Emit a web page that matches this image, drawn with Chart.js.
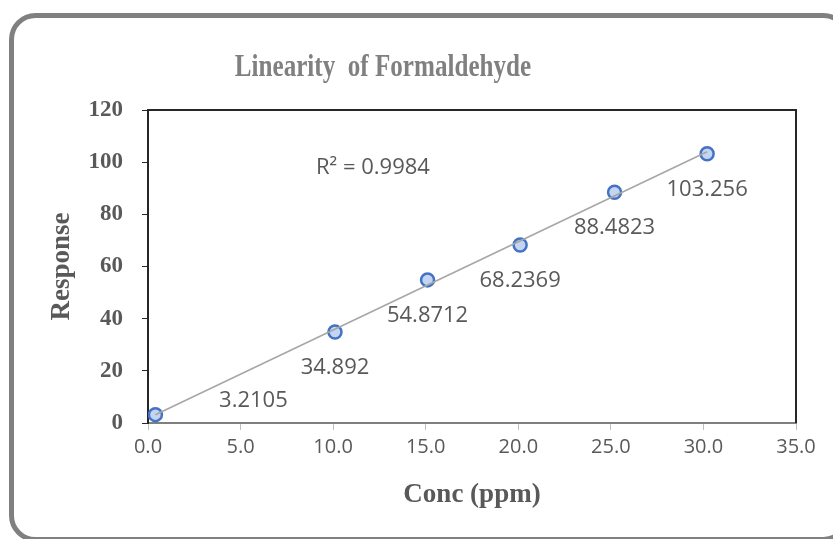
<!DOCTYPE html>
<html>
<head>
<meta charset="utf-8">
<title>Linearity of Formaldehyde</title>
<script src="https://cdn.jsdelivr.net/npm/chart.js@4"></script>
<style>
  html, body { margin: 0; padding: 0; background: #fff; }
  #wrap { width: 833px; height: 539px; position: relative; }
</style>
</head>
<body>
<div id="wrap"><canvas id="chart" width="833" height="539"></canvas></div>
<script>
// data
var concValues = [0.4, 10.1, 15.1, 20.1, 25.2, 30.2];
var responseValues = [3.2105, 34.892, 54.8712, 68.2369, 88.4823, 103.256];
var xTicks = [0, 5, 10, 15, 20, 25, 30, 35];
var yTicks = [0, 20, 40, 60, 80, 100, 120];
var titleText = 'Linearity  of Formaldehyde';
var xTitle = 'Conc (ppm)';
var yTitle = 'Response';
var r2Text = 'R\u00B2 = 0.9984';
var r2Pos = { x: 12.15, y: 98 };

var serif = '"Liberation Serif", "Times New Roman", serif';
var sans = '"Open Sans", "Noto Sans", sans-serif';

// least squares trendline across the data range
function trendline(xs, ys) {
    var n = xs.length, sx = 0, sy = 0, sxx = 0, sxy = 0;
    for (var i = 0; i < n; i++) {
        sx += xs[i]; sy += ys[i];
        sxx += xs[i] * xs[i]; sxy += xs[i] * ys[i];
    }
    var m = (n * sxy - sx * sy) / (n * sxx - sx * sx);
    var b = (sy - m * sx) / n;
    var x0 = Math.min.apply(null, xs), x1 = Math.max.apply(null, xs);
    return [{ x: x0, y: m * x0 + b }, { x: x1, y: m * x1 + b }];
}

var points = concValues.map(function (x, i) { return { x: x, y: responseValues[i] }; });

var framePlugin = {
    id: 'frame',
    beforeDraw: function (chart) {
        var c = chart.ctx;
        c.save();
        c.fillStyle = '#fff';
        c.fillRect(0, 0, chart.width, chart.height);
        c.beginPath();
        c.roundRect(11.5, 15.5, 836, 524, 24);
        c.lineWidth = 5;
        c.strokeStyle = '#808080';
        c.stroke();
        c.restore();
    },
    afterDraw: function (chart) {
        var a = chart.chartArea, c = chart.ctx;
        c.save();
        // top and right border of the plot area
        c.beginPath();
        c.moveTo(a.left, a.top);
        c.lineTo(a.right, a.top);
        c.lineTo(a.right, a.bottom);
        c.lineWidth = 2;
        c.strokeStyle = '#262626';
        c.stroke();

        c.textAlign = 'center';
        c.textBaseline = 'middle';

        // chart title, a little condensed like the original
        c.save();
        c.translate(383, 68);
        c.scale(0.81, 1);
        c.font = 'bold 31px ' + serif;
        c.fillStyle = '#808080';
        c.fillText(titleText, 0, 0);
        c.restore();

        // axis titles
        c.font = 'bold 27px ' + serif;
        c.fillStyle = '#595959';
        c.fillText(xTitle, (a.left + a.right) / 2, a.bottom + 72);
        c.save();
        c.translate(62, (a.top + a.bottom) / 2);
        c.rotate(-Math.PI / 2);
        c.fillText(yTitle, 0, 0);
        c.restore();

        // point labels
        var meta = chart.getDatasetMeta(1);
        c.font = '22px ' + sans;
        meta.data.forEach(function (pt, i) {
            var dx = 0, dy = 36;
            if (i === 0) { dx = 98; dy = -14; }
            c.fillText(String(responseValues[i]), pt.x + dx, pt.y + dy);
        });

        // R squared
        var xs = chart.scales.x, ys = chart.scales.y;
        c.fillText(r2Text, xs.getPixelForValue(r2Pos.x), ys.getPixelForValue(r2Pos.y));
        c.restore();
    }
};

var ctx = document.getElementById('chart').getContext('2d');
var chart = new Chart(ctx, {
    type: 'scatter',
    data: {
        datasets: [{
            type: 'line',
            label: 'Trend',
            data: trendline(concValues, responseValues),
            borderColor: '#a6a6a6',
            borderWidth: 1.5,
            pointRadius: 0,
            fill: false
        }, {
            label: 'Response',
            data: points,
            pointRadius: 6.5,
            pointBorderWidth: 2.5,
            pointBackgroundColor: '#c3d5f2',
            pointBorderColor: '#4472c4'
        }]
    },
    options: {
        responsive: false,
        animation: false,
        layout: { padding: { left: 0, right: 37, top: 110, bottom: 0 } },
        plugins: {
            legend: { display: false },
            tooltip: { enabled: false }
        },
        scales: {
            x: {
                type: 'linear',
                min: 0,
                max: 35,
                afterBuildTicks: function (s) { s.ticks = xTicks.map(function (v) { return { value: v }; }); },
                afterFit: function (s) { s.height = 116; },
                ticks: {
                    color: '#595959',
                    font: { family: sans, size: 20 },
                    padding: 5,
                    callback: function (v) { return v.toFixed(1); }
                },
                grid: { drawOnChartArea: false, drawTicks: true, tickLength: 7, color: '#bfbfbf' },
                border: { color: '#7f7f7f', width: 2 }
            },
            y: {
                min: 0,
                max: 120,
                afterBuildTicks: function (s) { s.ticks = yTicks.map(function (v) { return { value: v }; }); },
                afterFit: function (s) { s.width = 148; },
                ticks: {
                    color: '#595959',
                    font: { family: serif, size: 23, weight: 'bold' },
                    padding: 19
                },
                grid: { drawOnChartArea: false, drawTicks: true, tickLength: 6, color: '#262626' },
                border: { color: '#262626', width: 2 }
            }
        }
    },
    plugins: [framePlugin]
});
</script>
</body>
</html>
